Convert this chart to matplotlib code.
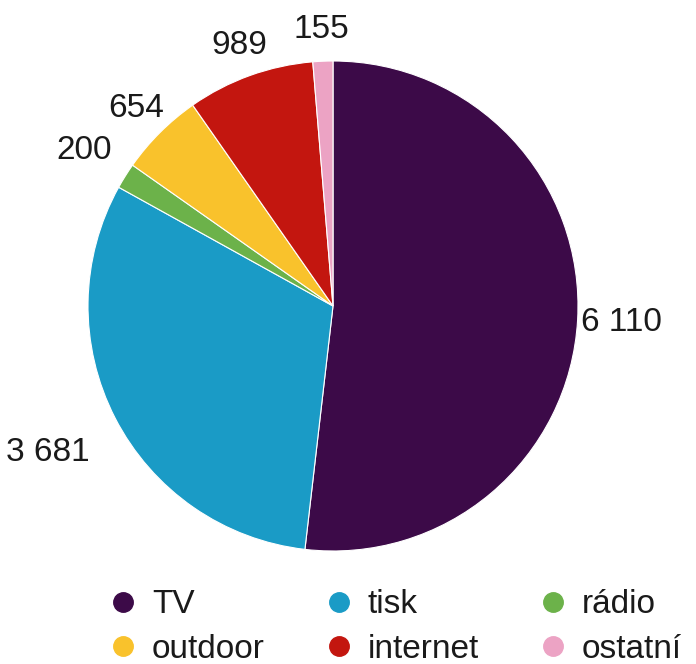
import numpy as np
import matplotlib.pyplot as plt
from matplotlib.lines import Line2D

plt.rcParams["font.family"] = ["Liberation Sans", "DejaVu Sans"]

categories = ["TV", "tisk", "rádio", "outdoor", "internet", "ostatní"]
values = [6110, 3681, 200, 654, 989, 155]
colors = ["#3c0a48", "#1a9bc6", "#6cb24a", "#f9c22c", "#c3160f", "#eca3c4"]
label_dist = [1.18, 1.31, 1.20, 1.14, 1.13, 1.13]


def fmt(v):
    return f"{v:,}".replace(",", " ")


fig = plt.figure(figsize=(6.96, 6.64), dpi=100)
ax = fig.add_axes([88 / 696, 113 / 664, 490 / 696, 490 / 664])

wedges, _ = ax.pie(
    values,
    colors=colors,
    startangle=90,
    counterclock=False,
    radius=1,
    wedgeprops=dict(edgecolor="white", linewidth=0.8),
)
ax.set_xlim(-1, 1)
ax.set_ylim(-1, 1)
ax.set_aspect("equal")

for w, v, d in zip(wedges, values, label_dist):
    ang = np.deg2rad((w.theta1 + w.theta2) / 2)
    ax.text(d * np.cos(ang), d * np.sin(ang), fmt(v), ha="center", va="center",
            fontsize=24, color="#1a1a1a", clip_on=False)

# legend: 3 fixed columns, 2 rows
handles = [Line2D([], [], marker="o", linestyle="none", markersize=14,
                  markerfacecolor=c, markeredgecolor=c) for c in colors]
col_x = [112 / 696, 328 / 696, 542 / 696]
for j in range(3):
    idx = [j, j + 3]
    fig.legend([handles[i] for i in idx], [categories[i] for i in idx],
               loc="center left", bbox_to_anchor=(col_x[j], 37 / 664),
               frameon=False, fontsize=24, handlelength=0.65, handletextpad=0.55,
               labelspacing=0.4, borderpad=0, borderaxespad=0,
               labelcolor="#1a1a1a")

fig.savefig("out.png", dpi=100)
